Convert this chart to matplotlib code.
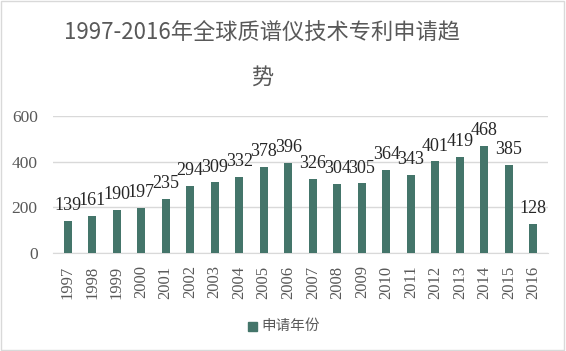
import matplotlib
matplotlib.use("Agg")
import matplotlib.pyplot as plt
from matplotlib.patches import Rectangle

years = [str(y) for y in range(1997, 2017)]
counts = [139, 161, 190, 197, 235, 294, 309, 332, 378, 396,
          326, 304, 305, 364, 343, 401, 419, 468, 385, 128]
yticks = [0, 200, 400, 600]

title = "1997-2016年全球质谱仪技术专利申请趋\n势"
legend_label = "申请年份"

bar_color = "#44756a"
text_gray = "#595959"
cjk = ["Noto Sans CJK SC", "DejaVu Sans"]
serif = ["Liberation Serif", "DejaVu Serif"]

fig = plt.figure(figsize=(5.66, 3.51), dpi=100)
ax = fig.add_axes([53 / 566, 1 - 253 / 351, 495 / 566, 137 / 351])

x = range(len(years))
bars = ax.bar(x, counts, width=0.33, color=bar_color, zorder=3)
for xi, v in zip(x, counts):
    ax.text(xi, v + 30, str(v), ha="center", va="bottom",
            fontsize=13, family=serif, color="#262626")

ax.set_xlim(-0.6, len(years) - 0.4)
ax.set_ylim(0, 600)
ax.set_yticks(yticks)
ax.set_yticklabels([str(t) for t in yticks], family=serif, fontsize=12.5, color=text_gray)
ax.set_xticks(list(x))
ax.set_xticklabels(years, rotation=90, family=serif, fontsize=12, color=text_gray)
ax.tick_params(axis="y", length=0, pad=11)
ax.tick_params(axis="x", length=0, pad=9)
ax.grid(axis="y", color="#d9d9d9", linewidth=1, zorder=0)
for s in ["top", "right", "left"]:
    ax.spines[s].set_visible(False)
ax.spines["bottom"].set_color("#d9d9d9")

fig.text(0.463, 1 - 55 / 351, title, ha="center", va="center", fontsize=16,
         family=cjk, color=text_gray, linespacing=2.15)

fig.patches.append(Rectangle((248 / 566, 1 - 331 / 351), 9 / 566, 9 / 351,
                             transform=fig.transFigure, color=bar_color))
fig.text(261 / 566, 1 - 326 / 351, legend_label, ha="left", va="center",
         fontsize=10.5, family=cjk, color=text_gray)

fig.patches.append(Rectangle((0.002, 0.003), 0.995, 0.993, transform=fig.transFigure,
                             fill=False, edgecolor="#d9d9d9", linewidth=1))

fig.savefig("out.png", dpi=100)
